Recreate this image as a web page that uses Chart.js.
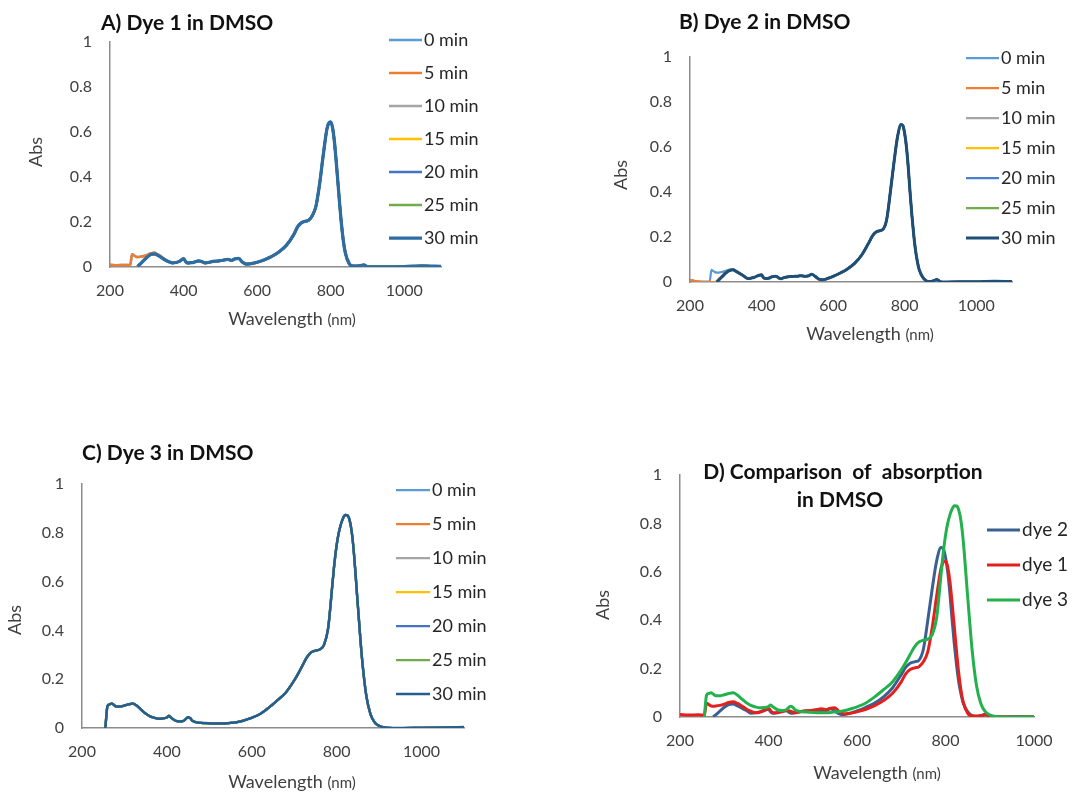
<!DOCTYPE html>
<html>
<head>
<meta charset="utf-8">
<title>Dye absorption in DMSO</title>
<script src="https://cdn.jsdelivr.net/npm/chart.js@4.4.1/dist/chart.umd.min.js"></script>
<style>
  html, body { margin: 0; padding: 0; background: #fff; }
  #page { position: relative; width: 1076px; height: 792px; }
  #page canvas { position: absolute; left: 0; top: 0; }
</style>
</head>
<body>
<div id="page">
  <canvas id="chartA" width="1076" height="792"></canvas>
  <canvas id="chartB" width="1076" height="792"></canvas>
  <canvas id="chartC" width="1076" height="792"></canvas>
  <canvas id="chartD" width="1076" height="792"></canvas>
</div>
<script>
//------------------Data------------------
// UV part (200-360 nm) and visible/NIR part (370-1100 nm)
const uvWl = [200, 220, 240, 255, 260, 265, 270, 275, 280, 290, 300, 310, 320, 330, 340, 350, 360];
const visWl = [370, 380, 390, 400, 405, 410, 420, 430, 440, 450, 455, 460, 470, 480, 490, 500, 510, 520,
  530, 540, 550, 560, 570, 580, 590, 600, 620, 640, 660, 680, 700, 710, 720, 730, 740, 750, 760, 770,
  780, 790, 795, 800, 805, 810, 815, 820, 825, 830, 835, 840, 850, 860, 870, 880, 890, 900, 910, 920,
  950, 1000, 1050, 1100];

const xTicks = [200, 400, 600, 800, 1000];
const absTicks = [0, 0.2, 0.4, 0.6, 0.8, 1];

const timeLabels = ['0 min', '5 min', '10 min', '15 min', '20 min', '25 min', '30 min'];
const dyeLabels = ['dye 2', 'dye 1', 'dye 3'];

// dye 1
const dye1UvEarly = [0.01, 0.008, 0.009, 0.008, 0.057, 0.052, 0.046, 0.044, 0.045, 0.048, 0.053, 0.06, 0.063, 0.056, 0.045, 0.033, 0.024];
const dye1UvLate = [null, null, null, null, null, null, null, 0.002, 0.01, 0.026, 0.042, 0.055, 0.058, 0.052, 0.042, 0.031, 0.023];
const dye1Vis = [0.018, 0.02, 0.026, 0.037, 0.026, 0.018, 0.019, 0.022, 0.027, 0.024, 0.02, 0.018, 0.021, 0.025,
  0.026, 0.028, 0.031, 0.034, 0.03, 0.036, 0.038, 0.022, 0.013, 0.014, 0.017, 0.021, 0.032, 0.047, 0.068,
  0.097, 0.145, 0.178, 0.196, 0.203, 0.208, 0.228, 0.27, 0.37, 0.5, 0.615, 0.64, 0.645, 0.62, 0.56, 0.47,
  0.37, 0.27, 0.18, 0.11, 0.062, 0.016, 0.004, 0.004, 0.006, 0.009, 0.002, 0.001, 0.001, 0.001, 0.002,
  0.005, 0.003];

// dye 2
const dye2UvEarly = [0.008, 0.003, 0.002, 0.003, 0.054, 0.049, 0.044, 0.042, 0.042, 0.045, 0.05, 0.055, 0.056, 0.048, 0.038, 0.028, 0.018];
const dye2Uv5 = [0.01, 0.003, 0, 0, 0, 0, 0, 0.005, 0.013, 0.028, 0.043, 0.052, 0.055, 0.047, 0.038, 0.027, 0.017];
const dye2UvLate = [null, null, null, null, null, null, null, 0, 0.008, 0.024, 0.04, 0.051, 0.054, 0.046, 0.037, 0.027, 0.016];
const dye2Vis = [0.017, 0.021, 0.028, 0.032, 0.02, 0.016, 0.017, 0.024, 0.026, 0.016, 0.015, 0.018, 0.022, 0.024,
  0.025, 0.026, 0.028, 0.026, 0.027, 0.034, 0.025, 0.013, 0.01, 0.013, 0.019, 0.025, 0.04, 0.058, 0.083,
  0.12, 0.175, 0.205, 0.222, 0.228, 0.235, 0.28, 0.4, 0.53, 0.645, 0.7, 0.695, 0.66, 0.6, 0.51, 0.4, 0.3,
  0.215, 0.145, 0.095, 0.058, 0.022, 0.006, 0.002, 0.005, 0.011, 0.001, 0, 0, 0.001, 0.001, 0.003, 0.002];

// dye 3
const dye3Uv = [null, null, null, 0, 0.09, 0.097, 0.1, 0.095, 0.088, 0.088, 0.092, 0.097, 0.1, 0.09, 0.074, 0.059, 0.048];
const dye3Vis = [0.042, 0.038, 0.039, 0.043, 0.05, 0.042, 0.03, 0.027, 0.03, 0.044, 0.04, 0.03, 0.023, 0.021,
  0.02, 0.019, 0.018, 0.018, 0.018, 0.019, 0.021, 0.023, 0.026, 0.03, 0.036, 0.042, 0.058, 0.083, 0.113,
  0.145, 0.195, 0.225, 0.258, 0.29, 0.31, 0.317, 0.322, 0.34, 0.41, 0.59, 0.68, 0.75, 0.8, 0.835, 0.86,
  0.873, 0.872, 0.855, 0.81, 0.73, 0.5, 0.28, 0.13, 0.055, 0.022, 0.009, 0.003, 0.001, 0, 0.001, 0.002, 0.004];

const wavelengths = uvWl.concat(visWl);
const dye1Early = dye1UvEarly.concat(dye1Vis);
const dye1Late = dye1UvLate.concat(dye1Vis);
const dye2Early = dye2UvEarly.concat(dye2Vis);
const dye2Five = dye2Uv5.concat(dye2Vis);
const dye2Late = dye2UvLate.concat(dye2Vis);
const dye3All = dye3Uv.concat(dye3Vis);

//------------------Text drawn on top of each panel------------------
const panelText = {
  id: 'panelText',
  afterDraw(chart, args, opts) {
    const ctx = chart.ctx;
    ctx.save();
    ctx.textBaseline = 'middle';

    ctx.fillStyle = '#111';
    ctx.font = `bold ${opts.titleSize}px Lato`;
    opts.title.forEach((t) => {
      ctx.textAlign = t.align;
      ctx.fillText(t.text, t.x, t.y);
    });

    const lg = opts.legend;
    ctx.font = `${lg.size}px Lato`;
    ctx.textAlign = 'left';
    chart.data.datasets.forEach((ds, i) => {
      const y = lg.y + i * lg.gap;
      ctx.strokeStyle = ds.borderColor;
      ctx.lineWidth = ds.borderWidth;
      ctx.beginPath();
      ctx.moveTo(lg.x, y);
      ctx.lineTo(lg.x + lg.len, y);
      ctx.stroke();
      ctx.fillStyle = '#262626';
      ctx.fillText(ds.label, lg.x + lg.len + 2, y);
    });

    ctx.fillStyle = '#404040';
    ctx.font = '18px Lato';
    ctx.save();
    ctx.translate(opts.yTitle.x, opts.yTitle.y);
    ctx.rotate(-Math.PI / 2);
    ctx.textAlign = 'center';
    ctx.fillText('Abs', 0, 0);
    ctx.restore();

    ctx.textAlign = 'left';
    ctx.font = '18px Lato';
    const w1 = ctx.measureText('Wavelength ').width;
    ctx.font = '15px Lato';
    const w2 = ctx.measureText('(nm)').width;
    const x0 = opts.xTitle.x - (w1 + w2) / 2;
    ctx.font = '18px Lato';
    ctx.fillText('Wavelength ', x0, opts.xTitle.y);
    ctx.font = '15px Lato';
    ctx.fillText('(nm)', x0 + w1, opts.xTitle.y + 1);
    ctx.restore();
  },
};

//------------------Panels------------------
const Y_W = 60;
const X_H = 40;
const timeOrder = [7, 6, 5, 4, 3, 2, 1];

const panels = [
  {
    id: 'chartA', area: { l: 110, t: 42, r: 441, b: 267 }, xMax: 1100,
    labels: timeLabels,
    series: [dye1Early, dye1Early, dye1Late, dye1Late, dye1Late, dye1Late, dye1Late],
    colors: ['#5B9BD5', '#ED7D31', '#A5A5A5', '#FFC000', '#4472C4', '#70AD47', '#2E6DA4'],
    widths: [2.5, 2.5, 2.5, 2.5, 2.5, 2.5, 3.25],
    order: timeOrder,
    text: {
      titleSize: 21,
      title: [{ text: 'A) Dye 1 in DMSO', x: 101, y: 23, align: 'left' }],
      legend: { x: 389, y: 40, gap: 33, len: 33, size: 18 },
      yTitle: { x: 36, y: 152 }, xTitle: { x: 292, y: 319 },
    },
  },
  {
    id: 'chartB', area: { l: 690, t: 57, r: 1012, b: 282 }, xMax: 1100,
    labels: timeLabels,
    series: [dye2Early, dye2Five, dye2Late, dye2Late, dye2Late, dye2Late, dye2Late],
    colors: ['#5B9BD5', '#ED7D31', '#A5A5A5', '#FFC000', '#4A7FD0', '#70AD47', '#1F4E79'],
    widths: [2.25, 2.25, 2.25, 2.25, 2.25, 2.25, 3],
    order: timeOrder,
    text: {
      titleSize: 21,
      title: [{ text: 'B) Dye 2 in DMSO', x: 679, y: 22, align: 'left' }],
      legend: { x: 966, y: 58, gap: 30, len: 33, size: 18 },
      yTitle: { x: 621, y: 175 }, xTitle: { x: 870, y: 334 },
    },
  },
  {
    id: 'chartC', area: { l: 82, t: 484, r: 464, b: 728 }, xMax: 1100,
    labels: timeLabels,
    series: [dye3All, dye3All, dye3All, dye3All, dye3All, dye3All, dye3All],
    colors: ['#5B9BD5', '#ED7D31', '#A5A5A5', '#FFC000', '#4472C4', '#70AD47', '#255E91'],
    widths: [2.25, 2.25, 2.25, 2.25, 2.25, 2.25, 2.5],
    order: timeOrder,
    text: {
      titleSize: 21,
      title: [{ text: 'C) Dye 3 in DMSO', x: 82, y: 453, align: 'left' }],
      legend: { x: 396, y: 490, gap: 34, len: 34, size: 18 },
      yTitle: { x: 15, y: 620 }, xTitle: { x: 292, y: 782 },
    },
  },
  {
    id: 'chartD', area: { l: 680, t: 475, r: 1034, b: 717 }, xMax: 1000,
    labels: dyeLabels,
    series: [dye2Late, dye1Early, dye3All],
    colors: ['#3A5F91', '#E4201E', '#22B14C'],
    widths: [3, 3, 3],
    order: [3, 2, 1],
    text: {
      titleSize: 21,
      title: [
        { text: 'D) Comparison  of  absorption', x: 843, y: 472, align: 'center' },
        { text: 'in DMSO', x: 840, y: 500, align: 'center' },
      ],
      legend: { x: 987, y: 530, gap: 35, len: 33, size: 19 },
      yTitle: { x: 603, y: 605 }, xTitle: { x: 877, y: 773 },
    },
  },
];

const toPoints = (values) => wavelengths.map((w, i) => ({ x: w, y: values[i] }));

panels.forEach((p) => {
  new Chart(document.getElementById(p.id), {
    type: 'line',
    data: {
      datasets: p.series.map((vals, i) => ({
        label: p.labels[i],
        data: toPoints(vals),
        borderColor: p.colors[i],
        borderWidth: p.widths[i],
        pointRadius: 0,
        fill: false,
        cubicInterpolationMode: 'monotone',
        order: p.order[i],
      })),
    },
    options: {
      responsive: false,
      animation: false,
      events: [],
      layout: {
        padding: { left: p.area.l - Y_W, top: p.area.t, right: 1076 - p.area.r, bottom: 792 - p.area.b - X_H },
      },
      plugins: {
        legend: { display: false },
        title: { display: false },
        tooltip: { enabled: false },
        panelText: p.text,
      },
      scales: {
        x: {
          type: 'linear', min: 200, max: p.xMax,
          grid: { display: false, drawTicks: false },
          border: { color: '#8c8c8c', width: 1.5 },
          ticks: { color: '#404040', font: { family: 'Lato', size: 16 }, padding: 14, callback: (v) => String(v) },
          afterBuildTicks: (s) => { s.ticks = xTicks.map((v) => ({ value: v })); },
          afterFit: (s) => { s.height = X_H; },
        },
        y: {
          min: 0, max: 1,
          grid: { display: false, drawTicks: false },
          border: { color: '#8c8c8c', width: 1.5 },
          ticks: { color: '#404040', font: { family: 'Lato', size: 16 }, padding: 18, callback: (v) => String(Math.round(v * 10) / 10) },
          afterBuildTicks: (s) => { s.ticks = absTicks.map((v) => ({ value: v })); },
          afterFit: (s) => { s.width = Y_W; },
        },
      },
    },
    plugins: [panelText],
  });
});
</script>
</body>
</html>
